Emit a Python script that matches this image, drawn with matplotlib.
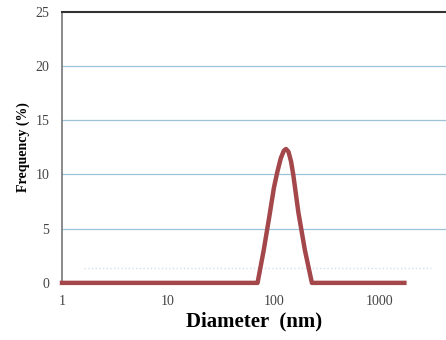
import matplotlib.pyplot as plt

# Size distribution (DLS), diameter in nm vs frequency in %
diameter = [1, 70, 80, 90, 100, 108, 116, 124, 130, 137, 145, 152, 170, 196, 228, 1700]
frequency = [0, 0, 3.0, 6.0, 8.8, 10.3, 11.5, 12.2, 12.35, 12.1, 11.2, 10.0, 6.5, 3.0, 0, 0]

# faint background trace
bg_diameter = [1.6, 3000]
bg_frequency = [1.4, 1.4]

yticks = [0, 5, 10, 15, 20, 25]
xticks = [1, 10, 100, 1000]
xticklabels = ['1', '10', '100', '1000']

plt.rcParams['font.family'] = ['Liberation Serif', 'DejaVu Serif']

fig = plt.figure(figsize=(4.46, 3.40), dpi=100)
ax = fig.add_axes([0.139, 0.168, 0.861, 0.797])

ax.set_xscale('log')
ax.set_xlim(1, 4200)
ax.set_ylim(0, 25)

for y in yticks[1:-1]:
    ax.axhline(y, color='#9cc3d8', lw=0.9, zorder=1)

ax.plot(bg_diameter, bg_frequency, color='#cfe0ea', lw=1.0, ls=':', zorder=1)
ax.plot(diameter, frequency, color='#a3474b', lw=3.2, solid_joinstyle='round',
        clip_on=False, zorder=3)

ax.set_yticks(yticks)
ax.set_xticks(xticks)
ax.set_xticklabels(xticklabels)
ax.minorticks_off()
ax.tick_params(length=0, labelsize=10, colors='#444444')
ax.tick_params(axis='x', pad=9)
ax.tick_params(axis='y', pad=9)

ax.spines['right'].set_visible(False)
ax.spines['bottom'].set_visible(False)
ax.spines['left'].set_color('#777777')
ax.spines['left'].set_linewidth(1.2)
ax.spines['top'].set_color('#333333')
ax.spines['top'].set_linewidth(1.5)

ax.set_xlabel('Diameter  (nm)', fontsize=15, fontweight='bold', labelpad=2)
ax.set_ylabel('Frequency (%)', fontsize=10, fontweight='bold', labelpad=4)

fig.savefig('out.png', dpi=100)
